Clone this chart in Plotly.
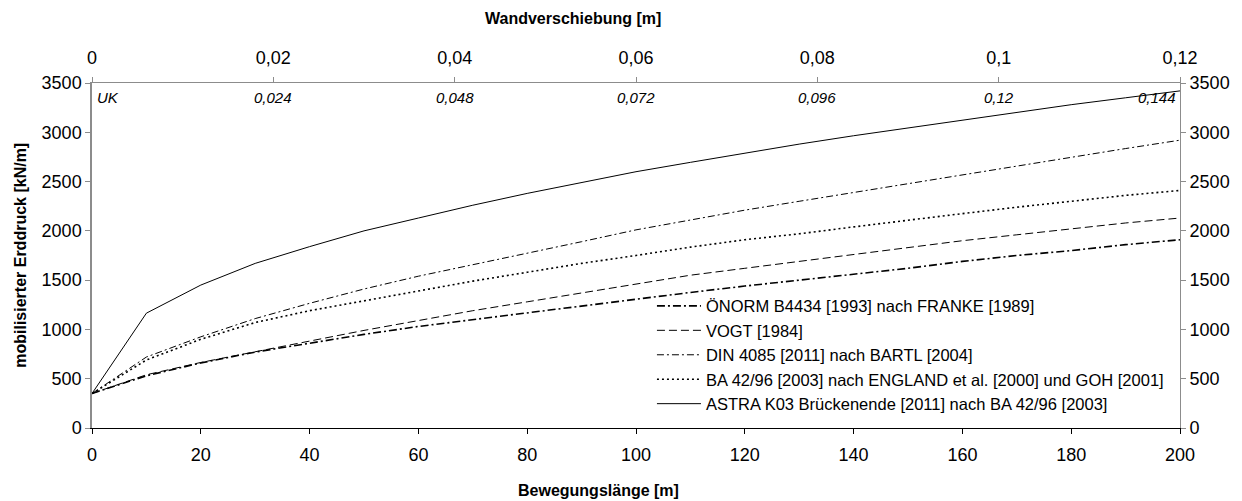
import plotly.graph_objects as go

# ---- data ----
bewegungslaenge = [0, 10, 20, 30, 40, 50, 60, 70, 80, 90, 100,
                   110, 120, 130, 140, 150, 160, 170, 180, 190, 200]

oenorm = [350, 530, 660, 770, 860, 950, 1030, 1100, 1170, 1240, 1310,
          1375, 1440, 1500, 1560, 1620, 1690, 1750, 1800, 1860, 1910]
vogt = [350, 540, 665, 775, 880, 990, 1090, 1190, 1280, 1370, 1460,
        1550, 1620, 1690, 1760, 1830, 1900, 1960, 2020, 2080, 2130]
din4085 = [350, 720, 925, 1110, 1265, 1410, 1540, 1655, 1770, 1890, 2010,
           2110, 2210, 2300, 2390, 2480, 2570, 2660, 2750, 2835, 2920]
ba4296 = [350, 690, 900, 1070, 1190, 1290, 1390, 1490, 1580, 1670, 1750,
          1835, 1910, 1970, 2040, 2110, 2175, 2240, 2300, 2360, 2410]
astra = [350, 1165, 1450, 1670, 1840, 2000, 2130, 2260, 2380, 2490, 2600,
         2695, 2790, 2880, 2965, 3045, 3125, 3200, 3280, 3350, 3420]

series_names = [
    "ÖNORM B4434 [1993] nach FRANKE [1989]",
    "VOGT [1984]",
    "DIN 4085 [2011] nach BARTL [2004]",
    "BA 42/96 [2003] nach ENGLAND et al. [2000] und GOH [2001]",
    "ASTRA K03 Brückenende [2011] nach BA 42/96 [2003]",
]
series_values = [oenorm, vogt, din4085, ba4296, astra]

x_ticks = [0, 20, 40, 60, 80, 100, 120, 140, 160, 180, 200]
y_ticks = [0, 500, 1000, 1500, 2000, 2500, 3000, 3500]
top_ticks = [0, 0.02, 0.04, 0.06, 0.08, 0.1, 0.12]
inner_labels = ["UK", "0,024", "0,048", "0,072", "0,096", "0,12", "0,144"]

# ---- styles ----
styles = [
    dict(color="black", width=1.6, dash="8px,3px,2px,3px"),
    dict(color="black", width=1.0, dash="8px,4px"),
    dict(color="black", width=1.0, dash="7px,3px,2px,3px"),
    dict(color="black", width=1.6, dash="2px,3px"),
    dict(color="black", width=1.0),
]

FONT = "Arial, Liberation Sans, sans-serif"
GREY = "#8c8c8c"
PL, PT, PW, PH = 92, 83, 1092, 345.6

fig = go.Figure()
for i, (name, vals) in enumerate(zip(series_names, series_values)):
    fig.add_trace(go.Scatter(
        x=bewegungslaenge, y=vals, mode="lines", name=name,
        line=styles[i], legendgroup=f"g{i}",
    ))

# invisible trace to activate the secondary (top/right) axes
fig.add_trace(go.Scatter(
    x=[top_ticks[0], top_ticks[-1]], y=[y_ticks[0], y_ticks[-1]],
    xaxis="x2", yaxis="y2", mode="lines", line=dict(width=0),
    opacity=0, showlegend=False, hoverinfo="skip",
))

tickfont = dict(family=FONT, size=18, color="black")

fig.update_layout(
    width=1242, height=501,
    margin=dict(l=92, r=58, t=83, b=73),
    paper_bgcolor="white", plot_bgcolor="white",
    separators=",.",
    font=dict(family=FONT, color="black"),
    showlegend=True,
    legend=dict(
        x=(654 - PL) / PW, y=(PT + PH - 289) / PH, xanchor="left", yanchor="top",
        bgcolor="rgba(0,0,0,0)", font=dict(family=FONT, size=16.5),
        tracegroupgap=0, itemwidth=44,
    ),
    xaxis=dict(
        range=[0, 200], tickvals=x_ticks, showgrid=False, zeroline=False,
        showline=True, linecolor="black", linewidth=1,
        ticks="outside", ticklen=5, tickcolor="black", tickfont=tickfont,
        ticklabelstandoff=5,
    ),
    yaxis=dict(
        range=[0, 3500], tickvals=y_ticks, showgrid=False, zeroline=False,
        showline=True, linecolor=GREY, linewidth=1.5,
        ticks="outside", ticklen=5, tickcolor=GREY, tickfont=tickfont,
    ),
    xaxis2=dict(
        range=[0, 0.12], tickvals=top_ticks, overlaying="x", side="top",
        showgrid=False, zeroline=False, showline=True, linecolor=GREY,
        linewidth=1, ticks="outside", ticklen=5, tickcolor=GREY,
        tickfont=tickfont, ticklabelstandoff=6,
    ),
    yaxis2=dict(
        range=[0, 3500], tickvals=y_ticks, overlaying="y", side="right",
        showgrid=False, zeroline=False, showline=True, linecolor=GREY,
        linewidth=1, ticks="outside", ticklen=5, tickcolor=GREY,
        tickfont=tickfont,
    ),
)

# axis titles
fig.add_annotation(text="<b>Wandverschiebung [m]</b>", xref="paper", yref="paper",
                   x=(575 - PL) / PW, y=1 + (PT - 18) / PH, xanchor="center",
                   yanchor="middle", showarrow=False, font=dict(family=FONT, size=16))
fig.add_annotation(text="<b>Bewegungslänge [m]</b>", xref="paper", yref="paper",
                   x=(600 - PL) / PW, y=-(491 - (PT + PH)) / PH, xanchor="center",
                   yanchor="middle", showarrow=False, font=dict(family=FONT, size=16))
fig.add_annotation(text="<b>mobilisierter Erddruck [kN/m]</b>", xref="paper", yref="paper",
                   x=-(PL - 20) / PW, y=0.5, textangle=-90, xanchor="center",
                   yanchor="middle", showarrow=False, font=dict(family=FONT, size=16))

# italic labels inside the plot under the top-axis ticks
for i, (tv, lab) in enumerate(zip(top_ticks, inner_labels)):
    if i == 0:
        xa, xs = "left", 3
    elif i == len(top_ticks) - 1:
        xa, xs = "right", -2
    else:
        xa, xs = "center", 0
    fig.add_annotation(text=f"<i>{lab}</i>", xref="x2", yref="paper",
                       x=tv, y=(PT + PH - 98) / PH, xanchor=xa, xshift=xs,
                       yanchor="middle", showarrow=False,
                       font=dict(family=FONT, size=15))

fig.write_html("out.html")
